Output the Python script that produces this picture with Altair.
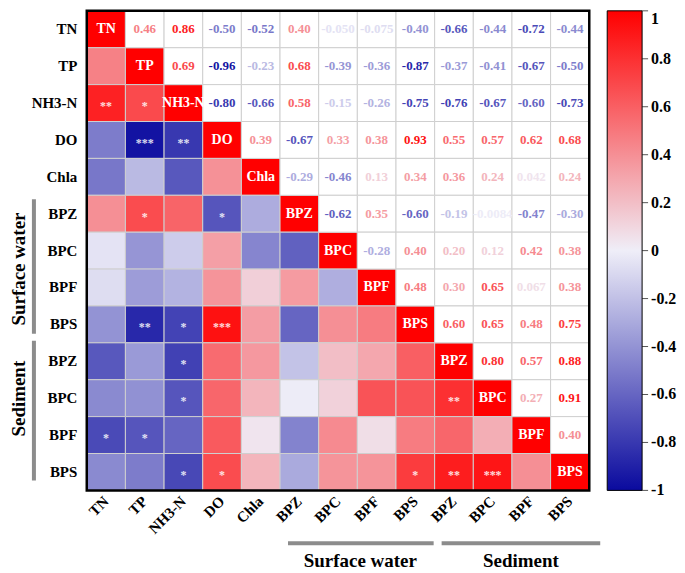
import altair as alt
import pandas as pd

# ---------------- data ----------------
var_ids = ["TN", "TP", "NH3-N", "DO", "Chla",
           "BPZ_w", "BPC_w", "BPF_w", "BPS_w",
           "BPZ_s", "BPC_s", "BPF_s", "BPS_s"]
var_labels = ["TN", "TP", "NH3-N", "DO", "Chla",
              "BPZ", "BPC", "BPF", "BPS",
              "BPZ", "BPC", "BPF", "BPS"]

# upper-triangle correlation coefficients (row i, columns i+1 ..)
upper_rows = [
    ["0.46", "0.86", "-0.50", "-0.52", "0.40", "-0.050", "-0.075", "-0.40", "-0.66", "-0.44", "-0.72", "-0.44"],
    ["0.69", "-0.96", "-0.23", "0.68", "-0.39", "-0.36", "-0.87", "-0.37", "-0.41", "-0.67", "-0.50"],
    ["-0.80", "-0.66", "0.58", "-0.15", "-0.26", "-0.75", "-0.76", "-0.67", "-0.60", "-0.73"],
    ["0.39", "-0.67", "0.33", "0.38", "0.93", "0.55", "0.57", "0.62", "0.68"],
    ["-0.29", "-0.46", "0.13", "0.34", "0.36", "0.24", "0.042", "0.24"],
    ["-0.62", "0.35", "-0.60", "-0.19", "-0.0084", "-0.47", "-0.30"],
    ["-0.28", "0.40", "0.20", "0.12", "0.42", "0.38"],
    ["0.48", "0.30", "0.65", "0.067", "0.38"],
    ["0.60", "0.65", "0.48", "0.75"],
    ["0.80", "0.57", "0.88"],
    ["0.27", "0.91"],
    ["0.40"],
]

# significance stars in the lower triangle
star_rows = ["NH3-N", "NH3-N", "DO", "DO", "BPZ_w", "BPZ_w",
             "BPS_w", "BPS_w", "BPS_w", "BPZ_s", "BPC_s", "BPC_s",
             "BPF_s", "BPF_s", "BPS_s", "BPS_s", "BPS_s", "BPS_s", "BPS_s"]
star_cols = ["TN", "TP", "TP", "NH3-N", "TP", "DO",
             "TP", "NH3-N", "DO", "NH3-N", "NH3-N", "BPZ_s",
             "TN", "TP", "NH3-N", "DO", "BPS_w", "BPZ_s", "BPC_s"]
star_marks = ["**", "*", "***", "**", "*", "*",
              "**", "*", "***", "*", "*", "**",
              "*", "*", "*", "*", "*", "**", "***"]

legend_values = [-1, -0.8, -0.6, -0.4, -0.2, 0, 0.2, 0.4, 0.6, 0.8, 1]

# ---------------- table ----------------
n = len(var_ids)
recs = []
for i in range(n):
    for j in range(n):
        if i == j:
            kind, txt, val = "diag", var_labels[i], 1.0
        elif j > i:
            txt = upper_rows[i][j - i - 1]
            kind, val = "upper", float(txt)
        else:
            txt = upper_rows[j][i - j - 1]
            kind, val = "lower", float(txt)
        recs.append({"row": var_ids[i], "col": var_ids[j], "kind": kind,
                     "value": val, "txt": txt})
df = pd.DataFrame(recs)
stars = pd.DataFrame({"row": star_rows, "col": star_cols, "s": star_marks})

W, H = 504, 481
cw, ch = W / n, H / n
FONT = "Liberation Serif"
LEG_OFF, LEG_W = 18, 35

xs = alt.Scale(domain=var_ids, paddingInner=0, paddingOuter=0)
ys = alt.Scale(domain=var_ids, paddingInner=0, paddingOuter=0)
lab_expr = "split(datum.label, '_')[0]"

axis_common = dict(labelExpr=lab_expr, labelFont=FONT, labelFontWeight="bold",
                   labelFontSize=15, labelColor="black", domain=False, ticks=False,
                   grid=False)
X = alt.X("col:N", scale=xs, title=None,
          axis=alt.Axis(labelAngle=-45, labelAlign="right", labelBaseline="middle",
                        labelPadding=8, **axis_common))
Y = alt.Y("row:N", scale=ys, title=None,
          axis=alt.Axis(labelPadding=10, **axis_common))

cscale = alt.Scale(domain=[-1, 0, 1], range=["#0a0a9e", "#efeef8", "#ff0000"],
                   interpolate="rgb")
C = alt.Color("value:Q", scale=cscale, title=None,
              legend=alt.Legend(orient="right", offset=LEG_OFF, direction="vertical",
                                gradientLength=H, gradientThickness=LEG_W,
                                values=legend_values, labelExpr="''",
                                labelOpacity=0,
                                gradientStrokeColor="black",
                                gradientStrokeWidth=1))
C_noleg = alt.Color("value:Q", scale=cscale, legend=None)

base = alt.Chart(df)

colored = base.transform_filter("datum.kind != 'upper'").mark_rect(
    stroke="#cfcfcf", strokeWidth=1).encode(x=X, y=Y, color=C)
blank = base.transform_filter("datum.kind == 'upper'").mark_rect(
    fill="white", stroke="#cfcfcf", strokeWidth=1).encode(x=X, y=Y)
nums = base.transform_filter("datum.kind == 'upper'").mark_text(
    font=FONT, fontWeight="bold", fontSize=13).encode(
    x=X, y=Y, text="txt:N", color=C_noleg)
diag = base.transform_filter("datum.kind == 'diag'").mark_text(
    font=FONT, fontWeight="bold", fontSize=14, color="white").encode(
    x=X, y=Y, text="txt:N")
star_layer = alt.Chart(stars).mark_text(
    font=FONT, fontWeight="bold", fontSize=12, color="white", opacity=0.85, dy=3).encode(
    x=X, y=Y, text="s:N")

one = pd.DataFrame({"a": [0]})
frame = alt.Chart(one).mark_rect(fillOpacity=0, stroke="black", strokeWidth=2.5).encode(
    x=alt.value(0), x2=alt.value(W), y=alt.value(0), y2=alt.value(H))

GRAY = "#8c8c8c"
# left group bars and titles
lbar1 = alt.Chart(one).mark_rule(color=GRAY, strokeWidth=4).encode(
    x=alt.value(-53), y=alt.value(5 * ch + 4), y2=alt.value(9 * ch - 9))
lbar2 = alt.Chart(one).mark_rule(color=GRAY, strokeWidth=4).encode(
    x=alt.value(-53), y=alt.value(9 * ch - 2), y2=alt.value(13 * ch - 10))
ltxt1 = alt.Chart(one).mark_text(text="Surface water", angle=270, font=FONT,
                                 fontWeight="bold", fontSize=19, color="black").encode(
    x=alt.value(-68), y=alt.value(7 * ch))
ltxt2 = alt.Chart(one).mark_text(text="Sediment", angle=270, font=FONT,
                                 fontWeight="bold", fontSize=19, color="black").encode(
    x=alt.value(-68), y=alt.value(11 * ch - 18))
# bottom group bars and titles
bbar1 = alt.Chart(one).mark_rule(color=GRAY, strokeWidth=4).encode(
    x=alt.value(5 * cw + 8), x2=alt.value(9 * cw - 1), y=alt.value(H + 53))
bbar2 = alt.Chart(one).mark_rule(color=GRAY, strokeWidth=4).encode(
    x=alt.value(9 * cw + 7), x2=alt.value(13 * cw + 11), y=alt.value(H + 53))
btxt1 = alt.Chart(one).mark_text(text="Surface water", font=FONT,
                                 fontWeight="bold", fontSize=19, color="black").encode(
    x=alt.value(7 * cw + 3), y=alt.value(H + 71))
btxt2 = alt.Chart(one).mark_text(text="Sediment", font=FONT,
                                 fontWeight="bold", fontSize=19, color="black").encode(
    x=alt.value(11 * cw + 9), y=alt.value(H + 71))

# colour-bar ticks and labels (serif bold, beside the gradient)
bar_right = W + LEG_OFF + LEG_W
leg_layers = []
for v in legend_values:
    py = H * (1 - v) / 2
    leg_layers.append(alt.Chart(one).mark_rule(color="#555555", strokeWidth=1).encode(
        x=alt.value(bar_right), x2=alt.value(bar_right + 6), y=alt.value(py)))
    leg_layers.append(alt.Chart(one).mark_text(
        text=f"{v:g}", font=FONT, fontWeight="bold", fontSize=16, color="black",
        align="left", baseline="top" if v == 1 else "middle").encode(
        x=alt.value(bar_right + 9), y=alt.value(py)))

chart = alt.layer(colored, blank, nums, diag, star_layer, frame,
                  lbar1, lbar2, ltxt1, ltxt2, bbar1, bbar2, btxt1, btxt2,
                  *leg_layers).properties(
    width=W, height=H,
    padding={"left": 2, "top": 0, "right": 0, "bottom": 0},
    background="white",
).configure_view(strokeWidth=0).configure_axis(
    domain=False, ticks=False, grid=False,
    labelFont=FONT, labelFontWeight="bold", labelFontSize=15, labelColor="black",
)

chart.save("out.html", embed_options={"renderer": "svg", "actions": False})
